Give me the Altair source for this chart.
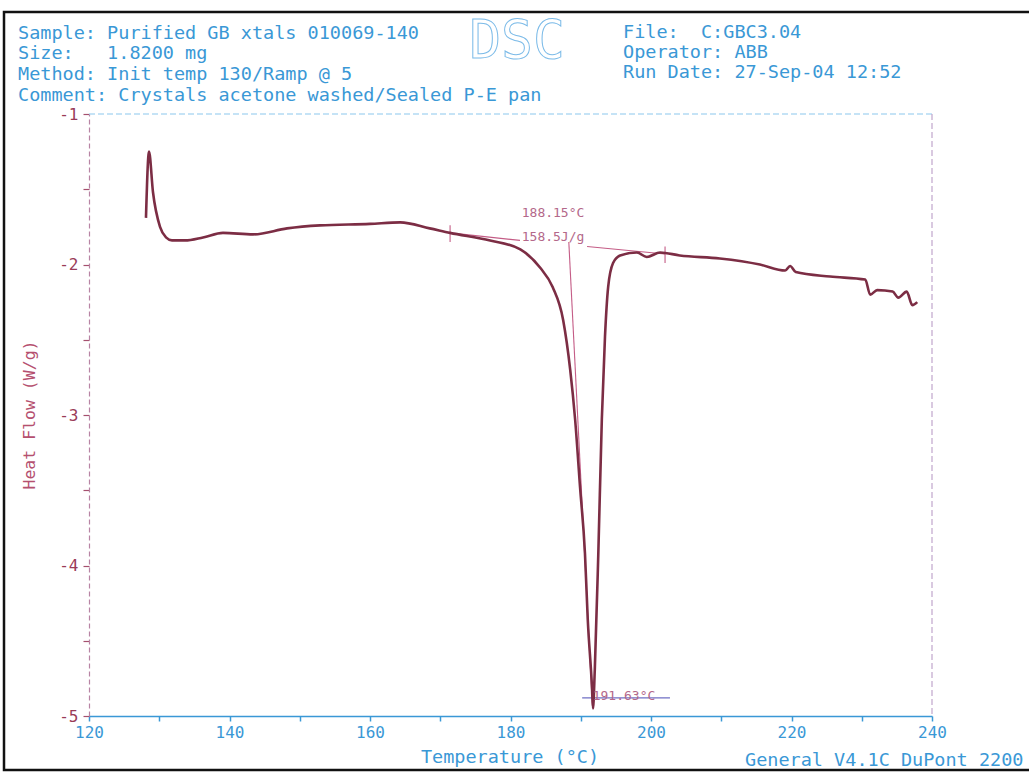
import altair as alt
import pandas as pd

# ---------------- data ----------------
temperature = [128.11, 128.54, 129.11, 130.11, 130.96, 131.81, 133.67, 136.23, 139.07, 143.35,
               148.19, 152.88, 160.0, 164.3, 168.5, 171.4, 177.1, 181.4, 184.2, 186.0,
               187.5, 188.5, 189.2, 189.9, 190.6, 191.0, 191.6, 191.74, 192.0, 192.5,
               193.0, 193.45, 193.9, 194.6, 195.6, 198.0, 199.4, 201.3, 204.1, 209.8,
               215.5, 219.1, 219.8, 220.6, 225.5, 230.5, 231.2, 232.2, 234.4, 235.2,
               236.4, 237.2, 237.9]
heat_flow = [-1.69, -1.25, -1.52, -1.75, -1.82, -1.84, -1.84, -1.82, -1.79, -1.80,
             -1.76, -1.74, -1.73, -1.72, -1.76, -1.79, -1.84, -1.90, -2.02, -2.15,
             -2.37, -2.70, -3.03, -3.48, -3.92, -4.36, -4.81, -4.95, -4.69, -3.92,
             -3.03, -2.48, -2.15, -1.99, -1.94, -1.92, -1.95, -1.92, -1.94, -1.96,
             -2.00, -2.04, -2.01, -2.05, -2.08, -2.10, -2.20, -2.17, -2.18, -2.22,
             -2.18, -2.27, -2.25]

# analysis construction lines (baseline, limit ticks, onset tangent)
seg_t1 = [171.4, 190.9, 188.3, 171.4, 202.0]
seg_v1 = [-1.79, -1.88, -1.85, -1.74, -1.88]
seg_t2 = [181.35, 202.0, 191.65, 171.4, 202.0]
seg_v2 = [-1.84, -1.93, -4.93, -1.85, -1.99]

# peak marker line
peak_t = [190.2]
peak_t2 = [202.7]
peak_v = [-4.88]

# analysis labels
ann_text = ["188.15°C", "158.5J/g", "191.63°C"]
ann_t = [181.6, 181.6, 191.7]
ann_v = [-1.66, -1.82, -4.87]

x_ticks = [120, 130, 140, 150, 160, 170, 180, 190, 200, 210, 220, 230, 240]
y_ticks = [-5, -4.5, -4, -3.5, -3, -2.5, -2, -1.5, -1]

NB = "\u00a0"
header_left = ["Sample: Purified GB xtals 010069-140",
               "Size:" + NB * 3 + "1.8200 mg",
               "Method: Init temp 130/Ramp @ 5",
               "Comment: Crystals acetone washed/Sealed P-E pan"]
header_right = ["File:" + NB * 2 + "C:GBC3.04",
                "Operator: ABB",
                "Run Date: 27-Sep-04 12:52"]
instrument_text = "DSC"
x_title = "Temperature (°C)"
y_title = "Heat Flow (W/g)"
footer_text = "General V4.1C DuPont 2200"

# ---------------- styling ----------------
MONO = "DejaVu Sans Mono"
CYAN = "#3a98d6"
CURVE = "#7c2d44"
PINK = "#c45c86"
YCOL = "#9a3b58"
LEFT, TOP = 89, 114
W, H = 843, 602

xs = alt.Scale(domain=[120, 240], nice=False, zero=False)
ys = alt.Scale(domain=[-5, -1], nice=False, zero=False)

curve_df = pd.DataFrame({"T": temperature, "HF": heat_flow, "i": range(len(temperature))})

curve = alt.Chart(curve_df).mark_line(color=CURVE, strokeWidth=2.6, interpolate="monotone").encode(
    x=alt.X("T:Q", scale=xs,
            axis=alt.Axis(values=x_ticks, title=None, grid=False, labelFlush=False,
                          labelExpr="datum.value % 20 == 0 ? toString(datum.value) : ''",
                          labelFont=MONO, labelFontSize=16, labelColor=CYAN,
                          domainColor=CYAN, domainWidth=1.5, tickColor=CYAN, tickSize=5,
                          tickWidth=1.5, labelPadding=3)),
    y=alt.Y("HF:Q", scale=ys,
            axis=alt.Axis(values=y_ticks, title=None, grid=False, labelFlush=False,
                          labelExpr="datum.value % 1 == 0 ? toString(datum.value) : ''",
                          labelFont=MONO, labelFontSize=16, labelColor=YCOL,
                          domainColor="#b884a4", domainDash=[5, 3], domainWidth=1.2,
                          tickColor="#a5506e", tickSize=6, tickWidth=1.2, labelPadding=5)),
    order="i:Q",
)

seg_df = pd.DataFrame({"t1": seg_t1, "v1": seg_v1, "t2": seg_t2, "v2": seg_v2})
segments = alt.Chart(seg_df).mark_rule(color=PINK, strokeWidth=1.1).encode(
    x=alt.X("t1:Q", scale=xs), x2="t2:Q",
    y=alt.Y("v1:Q", scale=ys), y2="v2:Q",
)

peak_df = pd.DataFrame({"t1": peak_t, "t2": peak_t2, "v": peak_v})
peak_line = alt.Chart(peak_df).mark_rule(color="#6f6fc4", strokeWidth=1.3).encode(
    x=alt.X("t1:Q", scale=xs), x2="t2:Q", y=alt.Y("v:Q", scale=ys),
)

ann_df = pd.DataFrame({"txt": ann_text, "T": ann_t, "HF": ann_v})
ann = alt.Chart(ann_df).mark_text(align="left", baseline="middle", font=MONO, fontSize=13,
                                  color="#b4688a").encode(
    x=alt.X("T:Q", scale=xs), y=alt.Y("HF:Q", scale=ys), text="txt:N",
)

# plot frame: top (cyan dashed) and right (light purple dashed)
top_df = pd.DataFrame({"t1": [120], "t2": [240], "v": [-1]})
top_rule = alt.Chart(top_df).mark_rule(color="#8cc8ee", strokeDash=[6, 3], strokeWidth=1.2).encode(
    x=alt.X("t1:Q", scale=xs), x2="t2:Q", y=alt.Y("v:Q", scale=ys))
right_df = pd.DataFrame({"t": [240], "v1": [-1], "v2": [-5]})
right_rule = alt.Chart(right_df).mark_rule(color="#c0a6cc", strokeDash=[6, 3], strokeWidth=1.2).encode(
    x=alt.X("t:Q", scale=xs), y=alt.Y("v1:Q", scale=ys), y2="v2:Q")


def text_at(txt, px, py, size=18.5, align="left", angle=0, **kw):
    return alt.Chart(pd.DataFrame({"t": [txt]})).mark_text(
        align=align, baseline="middle", font=MONO, fontSize=size, angle=angle, **kw
    ).encode(x=alt.value(px - LEFT), y=alt.value(py - TOP), text="t:N")


layers = [top_rule, right_rule, segments, peak_line, curve, ann]

for txt, py in zip(header_left, [33, 53, 74, 95]):
    layers.append(text_at(txt, 18, py, color=CYAN))
for txt, py in zip(header_right, [32, 52, 72]):
    layers.append(text_at(txt, 623, py, color=CYAN))

layers.append(text_at(instrument_text, 517, 42, size=53, align="center",
                      fill="#ffffff", fillOpacity=0, stroke="#7cbbe8", strokeWidth=1.0))
layers.append(text_at(x_title, 510, 757, align="center", color=CYAN))
layers.append(text_at(footer_text, 745, 760, color=CYAN))
layers.append(text_at(y_title, 30, 415, size=16.5, align="center", angle=270, color="#b5506f"))

# outer black frame
frame = alt.Chart(pd.DataFrame({"t": [0]})).mark_rect(
    fillOpacity=0, stroke="#111111", strokeWidth=2.5
).encode(x=alt.value(4 - LEFT), x2=alt.value(1040 - LEFT),
         y=alt.value(12 - TOP), y2=alt.value(770 - TOP))
layers.append(frame)

chart = alt.layer(*layers).properties(
    width=W, height=H,
    autosize=alt.AutoSizeParams(type="none"),
    padding={"left": LEFT, "top": TOP, "right": 1029 - LEFT - W, "bottom": 774 - TOP - H},
    background="white",
).configure_view(strokeWidth=0)

chart.save("out.html", embed_options={"renderer": "svg", "actions": False})
